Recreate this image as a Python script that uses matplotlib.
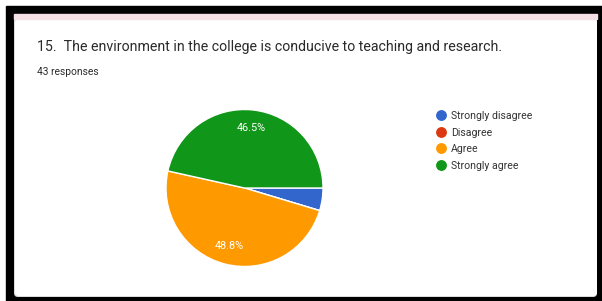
import matplotlib.pyplot as plt
from matplotlib.patches import Rectangle, FancyBboxPatch
from matplotlib.lines import Line2D

plt.rcParams['font.family'] = ['Roboto', 'DejaVu Sans']

title = '15.  The environment in the college is conducive to teaching and research.'
subtitle = '43 responses'
labels = ['Strongly disagree', 'Disagree', 'Agree', 'Strongly agree']
counts = [2, 0, 21, 20]
colors = ['#3366cc', '#dc3912', '#ff9900', '#109618']

W, H = 602, 301
fig = plt.figure(figsize=(W / 100, H / 100), dpi=100)

# background axes in pixel coords (y down)
bg = fig.add_axes([0, 0, 1, 1])
bg.set_xlim(0, W)
bg.set_ylim(H, 0)
bg.axis('off')

# black frame of the screenshot
bg.add_patch(Rectangle((6, 6), W - 6, H - 6, color='black', zorder=1))
# card
bg.add_patch(FancyBboxPatch((14, 14), 597 - 14, 297 - 14, boxstyle='round,pad=0,rounding_size=4',
                            facecolor='#dadce0', edgecolor='none', zorder=2))
bg.add_patch(FancyBboxPatch((15, 19), 597 - 15, 296 - 19, boxstyle='round,pad=0,rounding_size=4',
                            facecolor='white', edgecolor='none', zorder=3))
bg.add_patch(Rectangle((14, 14), 597 - 14, 4.5, color='#f4e0e4', zorder=3))

bg.text(37, 51, title, fontsize=10.2, color='#2a2a2a', va='baseline', ha='left', zorder=5)
bg.text(37, 75, subtitle, fontsize=7.4, color='#2a2a2a', va='baseline', ha='left', zorder=5)

# pie
cx, cy, r = 244.5, 188, 78.5
ax = fig.add_axes([(cx - r) / W, (H - cy - r) / H, 2 * r / W, 2 * r / H])
wedges, texts, autotexts = ax.pie(counts, colors=colors, startangle=0, counterclock=False,
                                  autopct=lambda p: '%.1f%%' % p if p > 5 else '',
                                  pctdistance=0.77, radius=1,
                                  wedgeprops=dict(edgecolor='white', linewidth=1))
for t in autotexts:
    t.set_color('white')
    t.set_fontsize(7.8)
ax.set_xlim(-1, 1)
ax.set_ylim(-1, 1)

# legend
handles = [Line2D([], [], marker='o', linestyle='none', markersize=6.8,
                  markerfacecolor=c, markeredgecolor=c) for c in colors]
fig.legend(handles, labels, loc='upper left', bbox_to_anchor=(435.5 / W, 1 - 111 / H),
           frameon=False, fontsize=7.6, handlelength=1.0, handletextpad=0.45,
           labelspacing=0.62, borderpad=0, borderaxespad=0, labelcolor='#333333')

fig.savefig('out.png', dpi=100)
